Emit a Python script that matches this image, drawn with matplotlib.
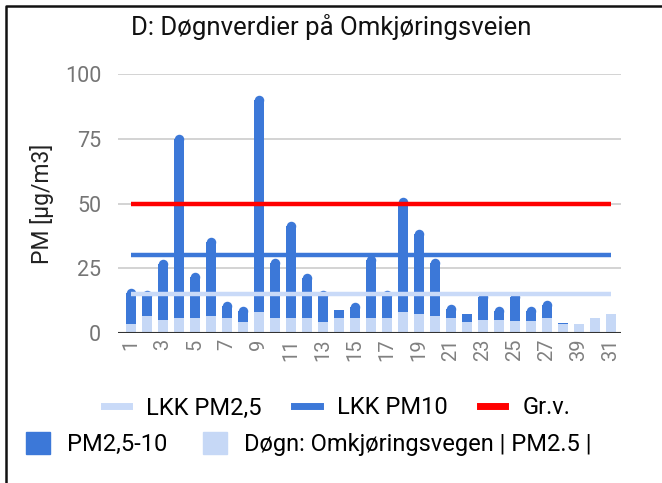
import matplotlib
matplotlib.use("Agg")
import matplotlib.pyplot as plt
from matplotlib.lines import Line2D
from matplotlib.patches import Patch
import numpy as np

plt.rcParams['font.family'] = ['Roboto', 'DejaVu Sans']

days = ['1', '2', '3', '4', '5', '6', '7', '8', '9', '10', '11', '12', '13', '14', '15', '16',
        '17', '18', '19', '20', '21', '22', '23', '24', '25', '26', '27', '28', '39', '30', '31']
pm25 = [3.4, 6.6, 5.0, 5.8, 5.8, 6.6, 5.8, 4.2, 8.1, 5.8, 5.8, 5.8, 4.2, 5.8, 5.8, 5.8,
        5.8, 8.1, 7.3, 6.6, 5.8, 4.2, 5.0, 5.0, 4.8, 4.8, 5.7, 3.3, 3.3, 5.7, 7.2]
pm_total = [17.5, 16.5, 28.4, 77.0, 23.7, 37.2, 12.2, 10.5, 91.8, 29.0, 43.2, 23.0, 16.5, 8.8, 12.0, 30.0,
            16.5, 52.4, 40.0, 29.0, 11.3, 7.4, 15.7, 10.4, 15.9, 10.5, 12.8, 4.0, 3.3, 5.7, 7.2]
pm25_10 = [t - b for t, b in zip(pm_total, pm25)]
lkk_pm25 = [15] * len(days)
lkk_pm10 = [30] * len(days)
grv = [50] * len(days)

DARK = '#3c78d8'
LIGHT = '#c6d8f6'
LINE_LIGHT = '#c9daf8'
RED = '#ff0000'

W, H, DPI = 662, 483, 100
fig = plt.figure(figsize=(W / DPI, H / DPI), dpi=DPI)
ax = fig.add_axes([118 / W, 1 - 333 / H, (621 - 118) / W, (333 - 74) / H])

x = np.arange(len(days))
bw = 0.625
ax.set_xlim(-0.79, 30.64)
ax.set_ylim(0, 100)

# rounded top radius in data units (5 px)
r_px = 5
r_units = r_px * 100 / 259.0
ax.bar(x, pm25, width=bw, color=LIGHT, zorder=2)
dark_h = [h - r_units if h > 2 * r_units else h for h in pm25_10]
ax.bar(x, dark_h, bottom=pm25, width=bw, color=DARK, zorder=2)
cx = [xi for xi, h in zip(x, pm25_10) if h > 2 * r_units]
cy = [b + h - r_units for b, h in zip(pm25, pm25_10) if h > 2 * r_units]
ax.plot(cx, cy, 'o', color=DARK, markersize=0.95 * bw * 16 * 72 / DPI, markeredgewidth=0, zorder=2)

ax.plot(x, lkk_pm25, color=LINE_LIGHT, lw=3.2, zorder=3, solid_capstyle='butt')
ax.plot(x, lkk_pm10, color=DARK, lw=3.2, zorder=3, solid_capstyle='butt')
ax.plot(x, grv, color=RED, lw=3.2, zorder=3, solid_capstyle='butt')

ax.set_yticks([0, 25, 50, 75, 100])
ax.grid(axis='y', color='#cccccc', lw=1.2, zorder=0)
ax.axhline(0, color='#333333', lw=1.5, zorder=4)
for s in ax.spines.values():
    s.set_visible(False)
ax.tick_params(axis='y', length=0, labelsize=15.5, labelcolor='#757575', pad=12)
ax.set_xticks(x[::2])
ax.set_xticklabels(days[::2], rotation=90)
ax.tick_params(axis='x', length=0, labelsize=14.5, labelcolor='#808080', pad=4)
ax.set_ylabel('PM [µg/m3]', fontsize=16.5, color='#222222', labelpad=8)

fig.text(331 / W, 1 - 27 / H, 'D: Døgnverdier på Omkjøringsveien', ha='center', va='center',
         fontsize=18.5, color='#111111')

h1 = [Line2D([], [], color=LINE_LIGHT, lw=5), Line2D([], [], color=DARK, lw=5),
      Line2D([], [], color=RED, lw=5)]
leg1 = fig.legend(h1, ['LKK PM2,5', 'LKK PM10', 'Gr.v.'], loc='center', ncol=3,
                  bbox_to_anchor=(337 / W, 1 - 408 / H), frameon=False, fontsize=17,
                  handlelength=1.06, columnspacing=1.4, handletextpad=0.72,
                  borderpad=0, borderaxespad=0)
h2 = [Patch(color=DARK), Patch(color=LIGHT)]
leg2 = fig.legend(h2, ['PM2,5-10', 'Døgn: Omkjøringsvegen | PM2.5 |'], loc='center left', ncol=2,
                  bbox_to_anchor=(26 / W, 1 - 444 / H), frameon=False, fontsize=17,
                  handlelength=1.02, handleheight=1.02, columnspacing=1.5, handletextpad=0.72,
                  borderpad=0, borderaxespad=0)

# figure border (top and left)
fig.add_artist(Line2D([6 / W, 6 / W, 1], [0, 1 - 6 / H, 1 - 6 / H], color='#111111', lw=1.8))

fig.savefig('out.png', dpi=DPI)
